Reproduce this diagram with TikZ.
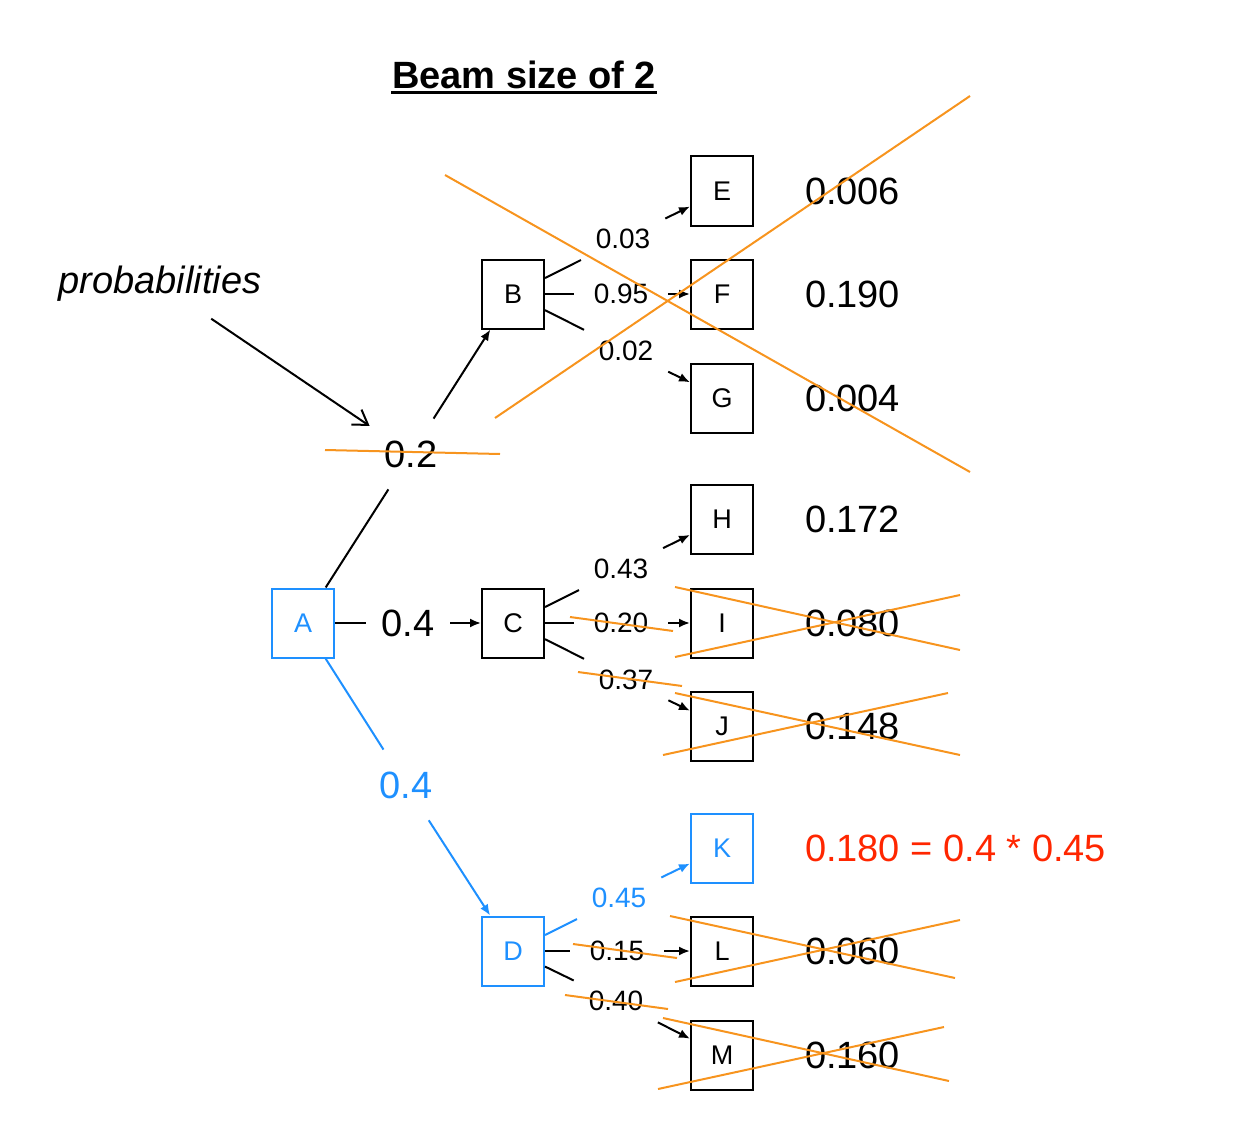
\documentclass[tikz,border=0pt]{standalone}
\usepackage{fontspec}
\setmainfont{Liberation Sans}
\usetikzlibrary{arrows.meta}
\definecolor{beamblue}{RGB}{30,144,255}
\definecolor{cutorange}{RGB}{247,148,30}
\definecolor{scorered}{RGB}{255,38,0}

\begin{document}
\begin{tikzpicture}[x=0.5pt,y=-0.5pt,line width=1pt,
        >={Latex[length=5.5pt,width=4.5pt]},
        box/.style={draw,minimum width=31pt,minimum height=34.5pt,inner sep=0pt,font=\fontsize{13.5}{15}\selectfont},
        prob/.style={circle,minimum size=46pt,inner sep=0pt,font=\fontsize{14}{16}\selectfont},
        bigprob/.style={circle,minimum size=41pt,inner sep=0pt,font=\fontsize{19}{22}\selectfont},
        score/.style={anchor=west,inner sep=0pt,font=\fontsize{19}{22}\selectfont},
        cut/.style={cutorange,line width=1pt}]
        \useasboundingbox (0,0) rectangle (1256,1134);

        \node[inner sep=0pt,font=\bfseries\fontsize{19}{22}\selectfont] (title) at (524,75) {Beam size of 2};
        \draw[line width=1.3pt] ([yshift=-2pt]title.base west) -- ([yshift=-2pt]title.base east);
        \node[inner sep=8pt,font=\itshape\fontsize{19}{22}\selectfont] (words) at (160,284) {probabilities};

        \node[box,beamblue] (a) at (303,623) {A};
        \node[box] (b) at (513,294) {B};
        \node[box] (c) at (513,623) {C};
        \node[box,beamblue] (d) at (513,951) {D};
        \node[box] (e) at (722,191) {E};
        \node[box] (f) at (722,294) {F};
        \node[box] (g) at (722,398) {G};
        \node[box] (h) at (722,519) {H};
        \node[box] (i) at (722,623) {I};
        \node[box] (j) at (722,726) {J};
        \node[box,beamblue] (k) at (722,848) {K};
        \node[box] (l) at (722,951) {L};
        \node[box] (m) at (722,1055) {M};

        \node[bigprob] (ab) at (411,454) {0.2};
        \node[bigprob] (ac) at (408,623) {0.4};
        \node[bigprob,beamblue] (ad) at (406,785) {0.4};
        \node[prob] (be) at (623,239) {0.03};
        \node[prob] (bf) at (621,294) {0.95};
        \node[prob] (bg) at (626,351) {0.02};
        \node[prob] (ch) at (621,569) {0.43};
        \node[prob] (ci) at (621,623) {0.20};
        \node[prob] (cj) at (626,680) {0.37};
        \node[prob,beamblue] (dk) at (619,898) {0.45};
        \node[prob] (dl) at (617,951) {0.15};
        \node[prob] (dm) at (616,1001) {0.40};

        \node[score] (se) at (804,191) {0.006};
        \node[score] (sf) at (804,294) {0.190};
        \node[score] (sg) at (804,398) {0.004};
        \node[score] (sh) at (804,519) {0.172};
        \node[score] (si) at (804,623) {0.080};
        \node[score] (sj) at (804,726) {0.148};
        \node[score,scorered] (sk) at (804,848) {0.180 = 0.4 * 0.45};
        \node[score] (sl) at (804,951) {0.060};
        \node[score] (sm) at (804,1055) {0.160};

        \draw[-{Straight Barb[length=7pt,width=9pt]},shorten >=4pt] (words) -- (ab);

        \draw (a) -- (ab);
        \draw[->] (ab) -- (b);
        \draw (a) -- (ac);
        \draw[->] (ac) -- (c);
        \draw[beamblue] (a) -- (ad);
        \draw[->,beamblue] (ad) -- (d);

        \draw (b) -- (be);
        \draw[->] (be) -- (e);
        \draw (b) -- (bf);
        \draw[->] (bf) -- (f);
        \draw (b) -- (bg);
        \draw[->] (bg) -- (g);

        \draw (c) -- (ch);
        \draw[->] (ch) -- (h);
        \draw (c) -- (ci);
        \draw[->] (ci) -- (i);
        \draw (c) -- (cj);
        \draw[->] (cj) -- (j);

        \draw[beamblue] (d) -- (dk);
        \draw[->,beamblue] (dk) -- (k);
        \draw (d) -- (dl);
        \draw[->] (dl) -- (l);
        \draw (d) -- (dm);
        \draw[->] (dm) -- (m);

        \draw[cut] (445,175) -- (970,472);
        \draw[cut] (495,418) -- (970,96);
        \draw[cut] (325,450) -- (500,454);
        \draw[cut] (570,617) -- (673,631);
        \draw[cut] (675,587) -- (960,650);
        \draw[cut] (675,657) -- (960,595);
        \draw[cut] (578,672) -- (682,686);
        \draw[cut] (675,693) -- (960,755);
        \draw[cut] (663,755) -- (948,693);
        \draw[cut] (573,944) -- (677,958);
        \draw[cut] (670,916) -- (955,978);
        \draw[cut] (675,982) -- (960,920);
        \draw[cut] (565,995) -- (668,1009);
        \draw[cut] (663,1018) -- (949,1081);
        \draw[cut] (658,1089) -- (944,1027);
    \end{tikzpicture}
\end{document}
